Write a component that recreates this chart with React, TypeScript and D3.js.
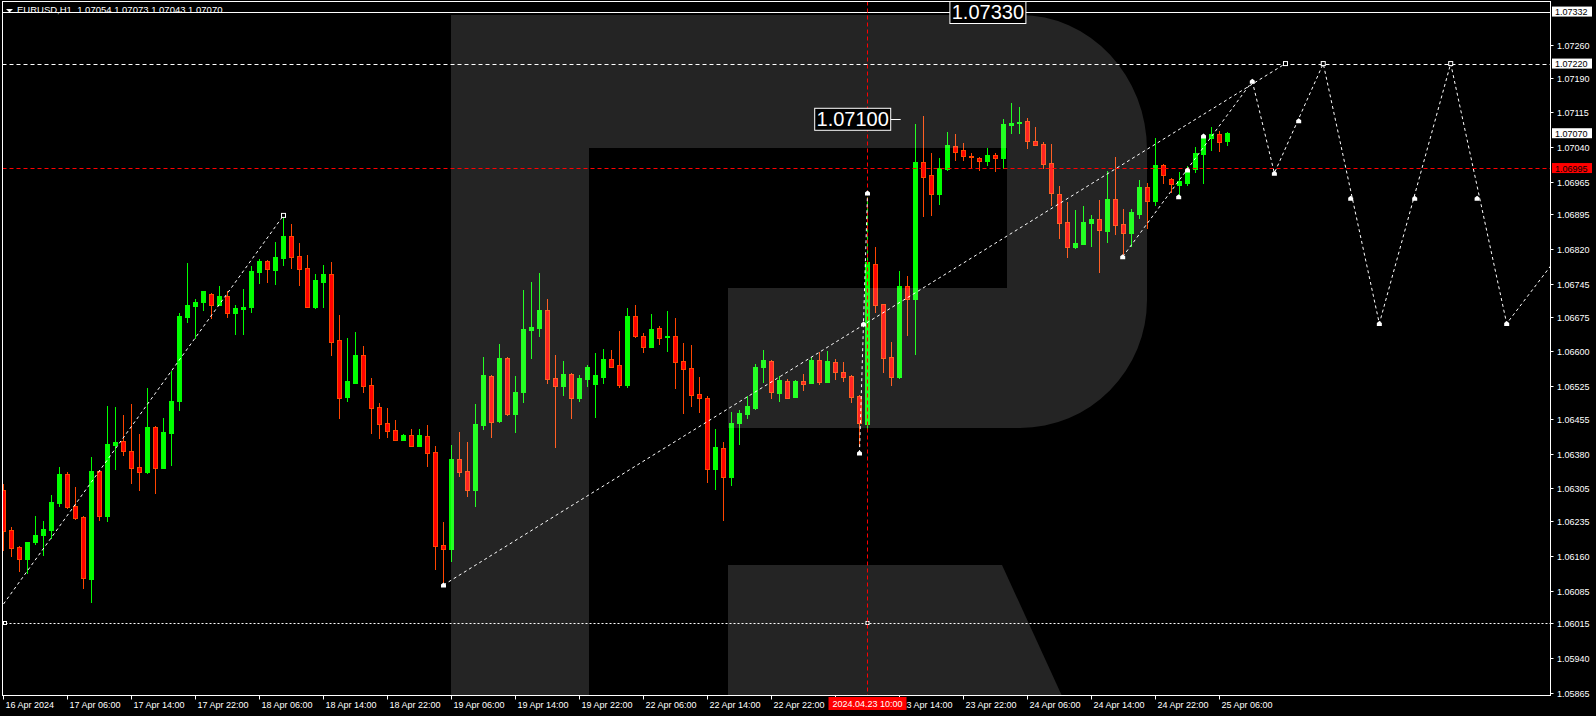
import React from 'react';
import * as d3 from 'd3';

// ---- OHLC data, one bar per hour starting 16 Apr 2024 22:00 ----
const opens = [
1.06302,1.06215,1.06179,1.06153,1.06190,1.06205,1.06215,1.06274,1.06336,1.06267,
1.06243,1.06110,1.06342,1.06246,1.06399,1.06407,1.06385,1.06351,1.06341,1.06437,
1.06350,1.06425,1.06494,1.06675,1.06698,1.06707,1.06723,1.06701,1.06719,1.06683,
1.06692,1.06696,1.06772,1.06795,1.06776,1.06802,1.06849,1.06805,1.06779,1.06696,
1.06750,1.06767,1.06625,1.06502,1.06533,1.06592,1.06528,1.06480,1.06446,1.06431,
1.06410,1.06420,1.06397,1.06418,1.06383,1.06183,1.06175,1.06368,1.06342,1.06302,
1.06442,1.06547,1.06450,1.06586,1.06466,1.06513,1.06647,1.06651,1.06689,1.06543,
1.06526,1.06551,1.06500,1.06541,1.06530,1.06546,1.06584,1.06571,1.06528,1.06676,
1.06633,1.06610,1.06650,1.06631,1.06633,1.06579,1.06564,1.06508,1.06499,1.06346,
1.06391,1.06329,1.06445,1.06465,1.06479,1.06566,1.06579,1.06511,1.06536,1.06502,
1.06536,1.06533,1.06582,1.06535,1.06577,1.06556,1.06547,1.06504,1.06444,1.06788,
1.06702,1.06588,1.06544,1.06741,1.06714,1.07008,1.06980,1.06940,1.06992,1.07042,
1.07034,1.07022,1.07017,1.07010,1.07023,1.07017,1.07088,1.07093,1.07096,1.07054,
1.07047,1.07006,1.06939,1.06879,1.06826,1.06831,1.06877,1.06885,1.06860,1.06928,
1.06874,1.06856,1.06897,1.06954,1.06925,1.07002,1.06971,1.06958,1.06963,1.06993,
1.07025,1.07060,1.07068,1.07054];
const highs = [
1.06314,1.06222,1.06180,1.06190,1.06245,1.06235,1.06291,1.06351,1.06340,1.06308,
1.06245,1.06373,1.06345,1.06482,1.06480,1.06463,1.06487,1.06422,1.06521,1.06439,
1.06457,1.06558,1.06682,1.06791,1.06714,1.06731,1.06725,1.06741,1.06730,1.06700,
1.06735,1.06784,1.06799,1.06797,1.06836,1.06890,1.06874,1.06834,1.06808,1.06767,
1.06786,1.06793,1.06678,1.06630,1.06642,1.06612,1.06543,1.06489,1.06478,1.06452,
1.06422,1.06433,1.06433,1.06442,1.06396,1.06233,1.06398,1.06426,1.06405,1.06487,
1.06588,1.06550,1.06616,1.06588,1.06547,1.06732,1.06750,1.06769,1.06713,1.06592,
1.06579,1.06553,1.06549,1.06571,1.06597,1.06605,1.06603,1.06644,1.06694,1.06700,
1.06640,1.06681,1.06655,1.06687,1.06672,1.06618,1.06614,1.06545,1.06504,1.06433,
1.06404,1.06469,1.06474,1.06504,1.06573,1.06603,1.06582,1.06547,1.06541,1.06538,
1.06551,1.06588,1.06599,1.06601,1.06584,1.06577,1.06550,1.06506,1.06933,1.06825,
1.06703,1.06620,1.06773,1.06762,1.07090,1.07107,1.07027,1.07017,1.07073,1.07068,
1.07049,1.07027,1.07019,1.07038,1.07027,1.07101,1.07135,1.07126,1.07103,1.07083,
1.07051,1.07047,1.06956,1.06922,1.06905,1.06913,1.06894,1.06926,1.06989,1.07019,
1.06907,1.06907,1.06969,1.06963,1.07060,1.07004,1.06973,1.06986,1.06999,1.07040,
1.07068,1.07083,1.07075,1.07073];
const lows = [
1.06171,1.06158,1.06125,1.06120,1.06183,1.06159,1.06197,1.06266,1.06260,1.06237,
1.06089,1.06058,1.06235,1.06233,1.06345,1.06375,1.06315,1.06300,1.06337,1.06294,
1.06347,1.06354,1.06472,1.06662,1.06626,1.06688,1.06670,1.06700,1.06673,1.06636,
1.06636,1.06683,1.06746,1.06748,1.06744,1.06785,1.06777,1.06742,1.06694,1.06692,
1.06694,1.06591,1.06454,1.06492,1.06533,1.06511,1.06423,1.06411,1.06414,1.06410,
1.06410,1.06397,1.06394,1.06352,1.06130,1.06097,1.06147,1.06330,1.06287,1.06266,
1.06431,1.06414,1.06446,1.06461,1.06425,1.06490,1.06583,1.06632,1.06530,1.06393,
1.06505,1.06455,1.06492,1.06524,1.06457,1.06530,1.06567,1.06522,1.06522,1.06630,
1.06597,1.06608,1.06614,1.06599,1.06520,1.06466,1.06481,1.06467,1.06316,1.06302,
1.06235,1.06311,1.06398,1.06454,1.06474,1.06533,1.06498,1.06492,1.06500,1.06502,
1.06515,1.06530,1.06528,1.06532,1.06538,1.06535,1.06490,1.06395,1.06429,1.06683,
1.06554,1.06526,1.06541,1.06634,1.06593,1.06890,1.06892,1.06916,1.06988,1.07011,
1.07011,1.06994,1.06989,1.06999,1.06987,1.06993,1.07068,1.07068,1.07036,1.07045,
1.06994,1.06914,1.06843,1.06802,1.06821,1.06830,1.06826,1.06770,1.06834,1.06851,
1.06808,1.06826,1.06886,1.06864,1.06914,1.06961,1.06941,1.06934,1.06956,1.06984,
1.06961,1.07032,1.07030,1.07043];
const closes = [
1.06214,1.06177,1.06153,1.06189,1.06205,1.06217,1.06276,1.06336,1.06266,1.06242,
1.06113,1.06342,1.06246,1.06401,1.06405,1.06386,1.06350,1.06341,1.06437,1.06350,
1.06426,1.06493,1.06676,1.06700,1.06706,1.06730,1.06701,1.06719,1.06682,1.06694,
1.06696,1.06773,1.06795,1.06777,1.06803,1.06849,1.06804,1.06778,1.06696,1.06754,
1.06767,1.06621,1.06500,1.06536,1.06592,1.06526,1.06479,1.06444,1.06429,1.06410,
1.06420,1.06397,1.06420,1.06382,1.06182,1.06174,1.06368,1.06341,1.06302,1.06444,
1.06549,1.06449,1.06586,1.06466,1.06513,1.06648,1.06653,1.06689,1.06541,1.06526,
1.06551,1.06500,1.06543,1.06566,1.06549,1.06584,1.06567,1.06528,1.06676,1.06634,
1.06610,1.06648,1.06630,1.06633,1.06578,1.06563,1.06507,1.06500,1.06346,1.06395,
1.06329,1.06445,1.06467,1.06482,1.06566,1.06582,1.06513,1.06538,1.06500,1.06536,
1.06530,1.06582,1.06535,1.06579,1.06556,1.06545,1.06502,1.06446,1.06793,1.06701,
1.06586,1.06544,1.06741,1.06714,1.07008,1.06976,1.06940,1.06995,1.07045,1.07030,
1.07022,1.07019,1.07011,1.07023,1.07017,1.07090,1.07092,1.07094,1.07054,1.07045,
1.07004,1.06941,1.06877,1.06826,1.06834,1.06879,1.06885,1.06862,1.06928,1.06873,
1.06856,1.06900,1.06954,1.06925,1.07002,1.06981,1.06961,1.06967,1.06991,1.07027,
1.07060,1.07068,1.07051,1.07070];

// ---- axes ----
const priceTicks = [1.07260,1.07190,1.07115,1.07040,1.06965,1.06895,1.06820,1.06745,1.06675,1.06600,
  1.06525,1.06455,1.06380,1.06305,1.06235,1.06160,1.06085,1.06015,1.05940,1.05865];
const timeTickBars = [0,8,16,24,32,40,48,56,64,72,80,88,96,104,112,120,128,136,144,152];
const timeTickLabels = ["16 Apr 2024","17 Apr 06:00","17 Apr 14:00","17 Apr 22:00","18 Apr 06:00",
  "18 Apr 14:00","18 Apr 22:00","19 Apr 06:00","19 Apr 14:00","19 Apr 22:00","22 Apr 06:00",
  "22 Apr 14:00","22 Apr 22:00","23 Apr 06:00","23 Apr 14:00","23 Apr 22:00","24 Apr 06:00",
  "24 Apr 14:00","24 Apr 22:00","25 Apr 06:00"];
const markedBar = 108;
const markedLabel = "2024.04.23 10:00";
const whiteAxisPrices = [1.07332, 1.07220, 1.07070];
const redAxisPrice = 1.06995;
const headerText = "EURUSD,H1  1.07054 1.07073 1.07043 1.07070";

// ---- drawn objects (bar index, price) ----
const solidLevel = 1.07330;
const dashedLevel = 1.07220;
const redLevel = 1.06995;
const dottedLevel = 1.06015;
const trendA = [[0, 1.06056], [35, 1.06893]];
const trendB = [[55, 1.06097], [160.25, 1.07220]];
const trendC = [[139.9, 1.06804], [156.1, 1.07182]];
const forecast = [[156.1, 1.07182], [158.86, 1.06984], [164.97, 1.07220], [171.98, 1.06660],
  [180.9, 1.07220], [187.9, 1.06660], [196, 1.06843]];
const impulse = [[107, 1.06381], [108, 1.06941]];
const arrowMarks = [[55, 1.06097], [107, 1.06381], [108, 1.06941], [107.5, 1.06659], [139.9, 1.06804],
  [146.9, 1.06933], [148, 1.06991], [150, 1.07064], [156.1, 1.07182], [158.86, 1.06984],
  [171.98, 1.06660], [187.9, 1.06660], [161.9, 1.07097], [168.4, 1.06930], [176.4, 1.06930], [184.2, 1.06930]];
const squareMarks = [[35, 1.06893], [160.25, 1.07220], [164.97, 1.07220], [180.9, 1.07220]];
const bigLabels = [
  { text: "1.07330", bar: 127.8, price: 1.07330 },
  { text: "1.07100", bar: 110.9, price: 1.07100 },
];

const FONT = "'Liberation Sans', Arial, sans-serif";
const L = 2.5, T = 1.5, R = 1550.5, B = 695.5;

export default function App() {
  const x = d3.scaleLinear().domain([0, 1]).range([3.5, 11.5]);
  const y = d3.scaleLinear().domain([1.05865, 1.0726]).range([692.7, 45]);
  const line = d3.line<number[]>().x(d => x(d[0])).y(d => y(d[1]));
  const bull = '#00ff00', bearFill = '#ff0000', bearLine = '#ff4500';

  return (
    <svg width={1596} height={716} style={{ position: 'fixed', left: 0, top: 0, background: '#000' }}
      xmlns="http://www.w3.org/2000/svg">
      <defs>
        <clipPath id="plot"><rect x={L} y={T} width={R - L} height={B - T} /></clipPath>
      </defs>
      <rect x={0} y={0} width={1596} height={716} fill="#000" />
      <g clipPath="url(#plot)">
        {/* candles */}
        {opens.map((o, i) => {
          const c = closes[i];
          const up = c >= o;
          const cx = x(i);
          const top = Math.round(y(Math.max(o, c)));
          const bot = Math.round(y(Math.min(o, c)));
          const col = up ? bull : bearLine;
          return (
            <g key={i}>
              <line x1={cx} x2={cx} y1={Math.round(y(highs[i]))} y2={Math.round(y(lows[i]))} stroke={col} strokeWidth={1} />
              <rect x={cx - 2} y={top + 0.5} width={4} height={Math.max(bot - top, 1)}
                fill={up ? bull : bearFill} stroke={col} strokeWidth={1} />
            </g>
          );
        })}
        {/* watermark */}
        <g fill="#fff" fillOpacity={0.14}>
          <path d="M451,15 H1020 A127,135 0 0 1 1147,150 V300 A127,128 0 0 1 1020,428 H728 V288 H1007 V148 H589 V696 H451 Z" />
          <path d="M728,565 H1002 L1062,696 H728 Z" />
        </g>
        {/* horizontal levels */}
        <line x1={L} x2={R} y1={Math.round(y(solidLevel)) + 0.5} y2={Math.round(y(solidLevel)) + 0.5} stroke="#fff" />
        <line x1={L} x2={R} y1={Math.round(y(dashedLevel)) + 0.5} y2={Math.round(y(dashedLevel)) + 0.5} stroke="#fff" strokeDasharray="4,3" />
        <line x1={L} x2={R} y1={Math.round(y(redLevel)) + 0.5} y2={Math.round(y(redLevel)) + 0.5} stroke="#ff0000" strokeDasharray="4,3" />
        <line x1={L + 3} x2={R} y1={Math.round(y(dottedLevel)) + 0.5} y2={Math.round(y(dottedLevel)) + 0.5} stroke="#fff" strokeDasharray="2,2" />
        <rect x={L + 1} y={Math.round(y(dottedLevel)) - 1.5} width={3} height={3} fill="#000" stroke="#fff" />
        <rect x={x(markedBar) - 1.5} y={Math.round(y(dottedLevel)) - 1.5} width={3} height={3} fill="#000" stroke="#fff" />
        {/* vertical time line */}
        <line x1={Math.round(x(markedBar)) - 0.5} x2={Math.round(x(markedBar)) - 0.5} y1={T} y2={B} stroke="#ff0000" strokeDasharray="4,3" />
        {/* trend / forecast lines */}
        {[trendA, trendB, trendC, forecast, impulse].map((pts, k) => (
          <path key={k} d={line(pts) || ''} fill="none" stroke="#fff" strokeWidth={1} strokeDasharray="3,3" />
        ))}
        {arrowMarks.map((p, k) => (
          <path key={k} d={`M${x(p[0]) - 2.5},${y(p[1]) + 2.5} L${x(p[0]) - 2.5},${y(p[1]) - 0.5} L${x(p[0])},${y(p[1]) - 2.5} L${x(p[0]) + 2.5},${y(p[1]) - 0.5} L${x(p[0]) + 2.5},${y(p[1]) + 2.5} Z`} fill="#fff" />
        ))}
        {squareMarks.map((p, k) => (
          <rect key={k} x={x(p[0]) - 2} y={y(p[1]) - 2} width={4} height={4} fill="#000" stroke="#fff" />
        ))}
        {/* big text labels */}
        {bigLabels.map((b, k) => {
          const right = x(b.bar);
          const cy = y(b.price);
          return (
            <g key={k}>
              <rect x={right - 76} y={cy - 11} width={76} height={22} fill="#000" stroke="#fff" strokeWidth={1} />
              <text x={right - 38} y={cy + 7} textAnchor="middle" fill="#fff" fontFamily={FONT} fontSize={20}>{b.text}</text>
              {k === 1 && <line x1={right} x2={right + 10} y1={Math.round(cy) + 0.5} y2={Math.round(cy) + 0.5} stroke="#fff" />}
            </g>
          );
        })}
      </g>
      {/* frame */}
      <rect x={L} y={T} width={R - L} height={B - T} fill="none" stroke="#fff" strokeWidth={1} />
      {/* header */}
      <path d="M6,9 L13,9 L9.5,12.5 Z" fill="#fff" />
      <text x={17} y={13} fill="#fff" fontFamily={FONT} fontSize={9.5} style={{ whiteSpace: 'pre' }}>{headerText}</text>
      {/* right axis */}
      {priceTicks.map((p, k) => {
        const ty = Math.round(y(p)) + 0.5;
        return (
          <g key={k}>
            <line x1={R} x2={R + 3} y1={ty} y2={ty} stroke="#fff" />
            <text x={1557} y={ty + 3.5} fill="#fff" fontFamily={FONT} fontSize={9}>{p.toFixed(5)}</text>
          </g>
        );
      })}
      {whiteAxisPrices.map((p, k) => {
        const ty = y(p);
        return (
          <g key={k}>
            <rect x={1552} y={ty - 5} width={40} height={10} fill="#fff" />
            <text x={1555} y={ty + 3.5} fill="#000" fontFamily={FONT} fontSize={9}>{p.toFixed(5)}</text>
          </g>
        );
      })}
      <rect x={1552} y={y(redAxisPrice) - 5} width={40} height={10} fill="#ff0000" />
      <text x={1555} y={y(redAxisPrice) + 3.5} fill="#000" fontFamily={FONT} fontSize={9}>{redAxisPrice.toFixed(5)}</text>
      {/* bottom axis */}
      {timeTickBars.map((b, k) => (
        <g key={k}>
          <line x1={x(b)} x2={x(b)} y1={B} y2={B + 4} stroke="#fff" />
          <text x={x(b) + 2} y={708} fill="#fff" fontFamily={FONT} fontSize={9}>{timeTickLabels[k]}</text>
        </g>
      ))}
      <rect x={x(markedBar) - 39} y={697} width={78} height={13} fill="#ff0000" />
      <text x={x(markedBar)} y={707} textAnchor="middle" fill="#fff" fontFamily={FONT} fontSize={9}>{markedLabel}</text>
    </svg>
  );
}
